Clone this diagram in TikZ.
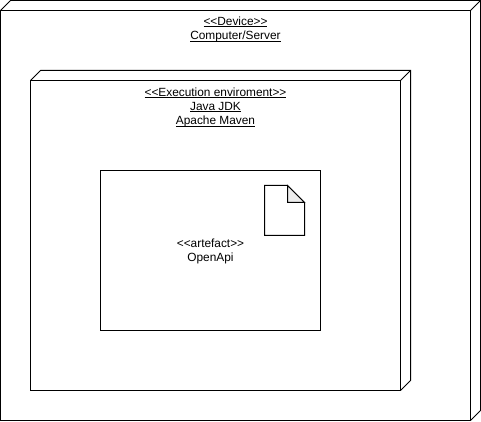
\documentclass[tikz,border=0pt]{standalone}
\usepackage{fontspec}
\setmainfont{Liberation Sans}
\usetikzlibrary{positioning}
\newcommand{\stereo}[1]{\textless\kern0pt\textless#1\textgreater\kern0pt\textgreater}
\newcommand{\souligne}[1]{\leavevmode\setbox0=\hbox{#1}\rlap{\rule[-1.4pt]{\wd0}{.7pt}}\box0}
\tikzstyle{boite}=[rectangle,draw,line width=.75pt,inner sep=0pt,outer sep=0pt]
\tikzstyle{titre}=[align=center,font=\fontsize{8.9pt}{10.7pt}\selectfont,inner sep=0pt]
\tikzstyle{arete}=[line width=.75pt,line join=miter]

\begin{document}
\begin{tikzpicture}[x=.75pt,y=.75pt]
\useasboundingbox (0,0) rectangle (481,421);

\node[boite,minimum width=352.5pt,minimum height=307.5pt] (device) at (235.5,205.5) {};
\node[boite,minimum width=277.5pt,minimum height=232.5pt] (enviro) at (215.5,185.5) {};
\node[boite,minimum width=165pt,minimum height=120pt] (artefact) at (210.5,170.5) {};
\node[titre] (Tartefact) [below=.8pt of artefact.center] {};
\node[titre] (Lartefact) at ([yshift=-.8pt]artefact.center) {\stereo{artefact}\\OpenApi};

\node[titre] (Tdevice) [below=4.6pt of device.north] {\souligne{\stereo{Device}}\\\souligne{Computer/Server}};
\node[titre] (Tenviro) [below=5.2pt of enviro.north] {\souligne{\stereo{Execution enviroment}}\\\souligne{Java JDK}\\\souligne{Apache Maven}};

\draw[arete] (device.north west)--++(10,10)-|([shift={(10,10)}]device.south east)--(device.south east);
\draw[arete] (device.north east)--++(10,10);
\draw[arete] (enviro.north west)--++(10,10)-|([shift={(10,10)}]enviro.south east)--(enviro.south east);
\draw[arete] (enviro.north east)--++(10,10);

\coordinate (doc) at ([shift={(-16,-15)}]artefact.north east);
\draw[arete,fill=white] (doc)++(-17,0)--++(17,-17)--++(0,-33)--++(-40,0)--++(0,50)--cycle;
\draw[arete,fill=black!7] (doc)++(-17,0)--++(0,-17)--++(17,0)--cycle;

\end{tikzpicture}
\end{document}
